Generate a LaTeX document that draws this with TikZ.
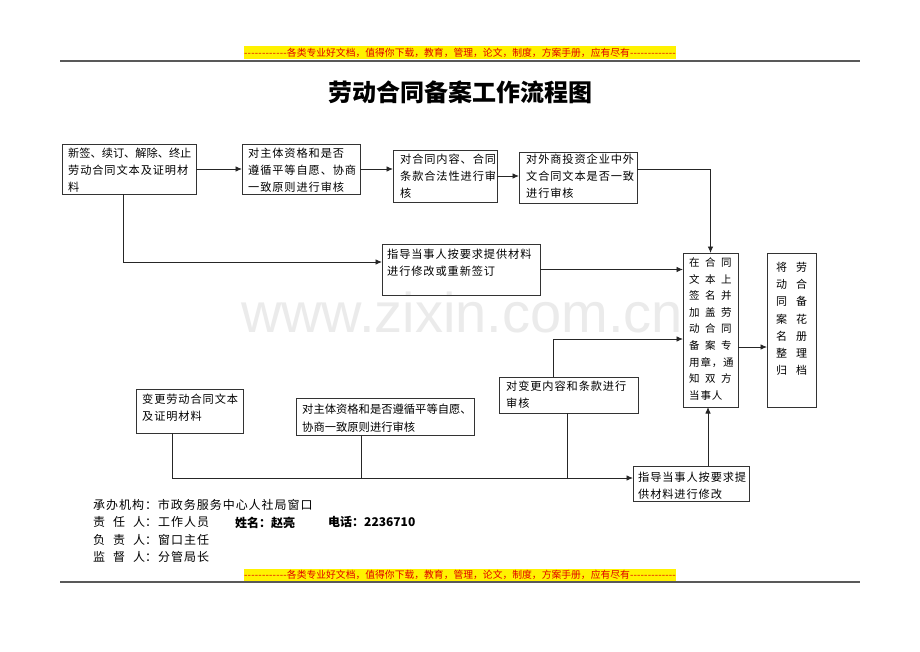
\documentclass[tikz,border=0pt]{standalone}
\usepackage{fontspec}
\setmainfont{Noto Sans CJK SC}
\newfontfamily\cjkls[LetterSpace=8]{Noto Sans CJK SC}
\newfontfamily\cjkpl{Noto Sans CJK SC}
\newfontfamily\wmfont{Liberation Sans}
\usetikzlibrary{arrows.meta,calc}
\definecolor{bannerred}{HTML}{E00000}
\newcommand\fthree[3]{\makebox[16pt][l]{#1}\makebox[16pt][l]{#2}#3}
\newcommand\gtwo[2]{\makebox[20pt][l]{#1}#2}
\newcommand\dashfill[1]{\makebox[#1]{\xleaders\hbox{-}\hfill}}
\begin{document}
\begin{tikzpicture}[x=1pt,y=-1pt,
  box/.style={draw=black!80, line width=0.8pt, inner sep=0pt, outer sep=0pt, anchor=north west},
  txt/.style={anchor=north west, inner sep=0pt, align=left, font=\cjkls\fontsize{11.2}{17}\selectfont},
  ft/.style={anchor=north west, inner sep=0pt, font=\cjkls\fontsize{12}{14}\selectfont},
  con/.style={line width=0.9pt, draw=black!85},
  arr/.style={con, -{Latex[length=6.5pt,width=5.5pt]}},
  banner/.style={fill=yellow, text=bannerred, inner sep=0pt, minimum height=13, font=\fontsize{9.8}{12}\selectfont}]
\useasboundingbox[fill=white] (0,0) rectangle (920,651);

% watermark
\node[font=\wmfont\fontsize{56}{60}\selectfont, text=black!8] (wm) at (462,312) {www.zixin.com.cn};

% header / footer
\node[banner] (ban1) at (460,52.5) {\dashfill{43pt}各类专业好文档，值得你下载，教育，管理，论文，制度，方案手册，应有尽有\dashfill{46pt}};
\draw[line width=1.2pt, black!65] (60,61) -- (860,61);
\node[banner] (ban2) at (460,575) {\dashfill{43pt}各类专业好文档，值得你下载，教育，管理，论文，制度，方案手册，应有尽有\dashfill{46pt}};
\draw[line width=1.2pt, black!65] (60,582) -- (860,582);

% title
\node[font=\bfseries\fontsize{24}{28}\selectfont] (title) at (460,92) {劳动合同备案工作流程图};

% boxes
\node[box, minimum width=134, minimum height=50] (a) at (62,144) {};
\node[txt] (at) at (68,148) {{\cjkpl 新签、续订、解除、终止}\\劳动合同文本及证明材\\料};

\node[box, minimum width=118, minimum height=50] (b) at (242,144) {};
\node[txt] (bt) at (248,148) {对主体资格和是否\\遵循平等自愿、协商\\一致原则进行审核};

\node[box, minimum width=104, minimum height=52] (c) at (393,150) {};
\node[txt] (ct) at (400,154) {对合同内容、合同\\条款合法性进行审\\核};

\node[box, minimum width=118, minimum height=51] (d) at (519,152) {};
\node[txt] (dt) at (526,154) {对外商投资企业中外\\文合同文本是否一致\\进行审核};

\node[box, minimum width=158, minimum height=51] (e) at (382,244) {};
\node[txt] (et) at (387,249) {指导当事人按要求提供材料\\进行修改或重新签订};

\node[box, minimum width=55, minimum height=154] (f) at (683,253) {};
\node[txt, font=\cjkls\fontsize{10.5}{16.6}\selectfont] (ftx) at (689,257.5)
  {\fthree{在}{合}{同}\\\fthree{文}{本}{上}\\\fthree{签}{名}{并}\\\fthree{加}{盖}{劳}\\\fthree{动}{合}{同}\\\fthree{备}{案}{专}\\用章，通\\\fthree{知}{双}{方}\\当事人};

\node[box, minimum width=49, minimum height=154] (g) at (767,253) {};
\node[txt, font=\cjkls\fontsize{11}{17.2}\selectfont] (gtx) at (776,262)
  {\gtwo{将}{劳}\\\gtwo{动}{合}\\\gtwo{同}{备}\\\gtwo{案}{花}\\\gtwo{名}{册}\\\gtwo{整}{理}\\\gtwo{归}{档}};

\node[box, minimum width=107, minimum height=44] (h) at (136,389) {};
\node[txt] (ht) at (142,394) {变更劳动合同文本\\及证明材料};

\node[box, minimum width=178, minimum height=37] (i) at (296,398) {};
\node[txt, font=\fontsize{11.3}{18}\selectfont] (itx) at (302,404) {对主体资格和是否遵循平等自愿、\\协商一致原则进行审核};

\node[box, minimum width=139, minimum height=36] (j) at (499,377) {};
\node[txt] (jt) at (506,380.5) {对变更内容和条款进行\\审核};

\node[box, minimum width=116, minimum height=35] (k) at (633,466) {};
\node[txt] (kt) at (638,472) {指导当事人按要求提\\供材料进行修改};

% footer text
\node[ft] (f1) at (93,499) {承办机构：市政务服务中心人社局窗口};
\node[ft] (f2) at (93,516.5) {\makebox[52pt][s]{责\hfill 任\hfill 人}：工作人员};
\node[ft, font=\bfseries\fontsize{12}{14}\selectfont] (f2b) at (235,516.5) {姓名：赵亮};
\node[ft, font=\bfseries\fontsize{12}{14}\selectfont] (f2c) at (328,516.5) {电话：2236710};
\node[ft] (f3) at (93,534) {\makebox[52pt][s]{负\hfill 责\hfill 人}：窗口主任};
\node[ft] (f4) at (93,551.5) {\makebox[52pt][s]{监\hfill 督\hfill 人}：分管局长};

% connectors
\draw[arr] (a.east) -- (b.west);
\draw[arr] (b.east) -- (b.east -| c.west);
\draw[arr] (c.east) -- (c.east -| d.west);
\draw[arr] (d.east |- b.east) -| (f.north);
\draw[arr] ($(a.south west)+(61,0)$) |- ($(e.north west)+(0,18)$);
\draw[arr] (e.east) -- (e.east -| f.west);
\draw[arr] ($(j.north west)+(54,0)$) |- ($(f.north west)+(0,86)$);
\draw[arr] ($(f.north east)+(0,94)$) -- ($(g.north west)+(0,94)$);

\coordinate (bus) at ($(k.north west)+(0,12)$);
\coordinate (hb) at ($(h.south west)+(36,0)$);
\coordinate (ib) at ($(i.south west)+(65,0)$);
\coordinate (jb) at ($(j.south west)+(68,0)$);
\coordinate (ktop) at ($(k.north west)+(75,0)$);
\draw[arr] (hb) |- (bus);
\draw[con] (ib) -- (ib |- bus);
\draw[con] (jb) -- (jb |- bus);
\draw[arr] (ktop) -- (ktop |- f.south);
\end{tikzpicture}
\end{document}
